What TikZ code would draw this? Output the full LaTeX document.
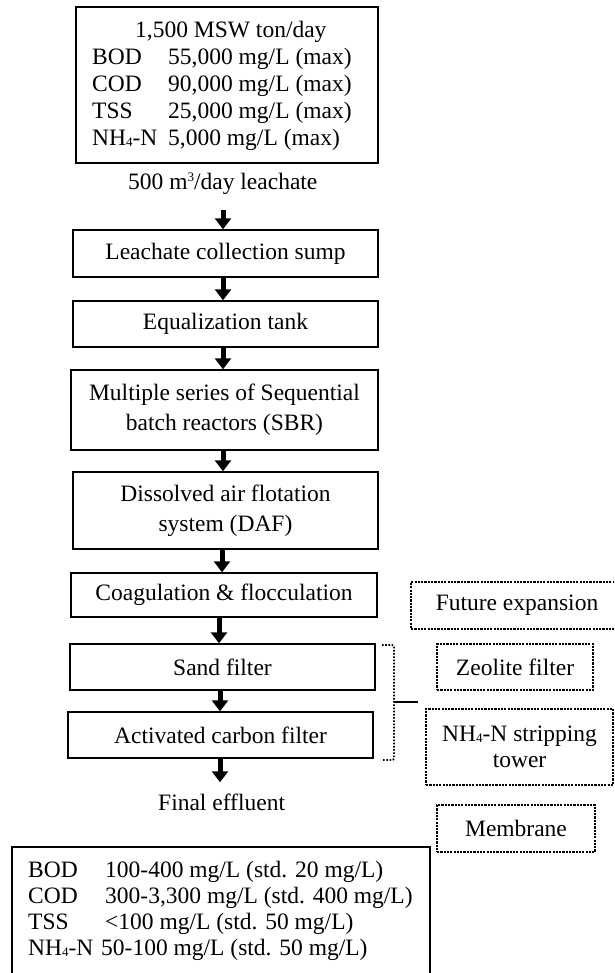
\documentclass[tikz,border=0pt]{standalone}
\usepackage{fontspec}
\setmainfont{Liberation Serif}
\usetikzlibrary{arrows.meta,calc}
\newcommand{\subfour}{\raisebox{-1pt}{\fontsize{13}{13}\selectfont 4}}
\newcommand{\supthree}{\raisebox{8pt}{\fontsize{13}{13}\selectfont 3}}
\begin{document}
\begin{tikzpicture}[x=1pt,y=-1pt,
  font=\fontsize{23.5}{30}\selectfont,
  box/.style={draw, line width=1.4pt, inner sep=0pt, align=center},
  fbox/.style={draw, line width=1.2pt, dash pattern=on 2.2pt off 1.1pt, inner sep=0pt, align=center, font=\fontsize{23.5}{26}\selectfont},
  flow/.style={line width=5pt, -{Triangle[width=16pt,length=11pt]}},
  txt/.style={inner sep=0pt, anchor=base west},
  brk/.style={line width=1.9pt, dash pattern=on 1.6pt off 1.6pt, rounded corners=2pt},
]
\clip (0,0) rectangle (614,973);
\fill[white] (0,0) rectangle (614,973);

% top influent box
\node[box, minimum width=302pt, minimum height=156pt] (inf) at (227,85) {};
\node[txt] (t0) at (135,37.5) {1,500 MSW ton/day};
\node[txt] (t1a) at (92,65) {BOD};
\node[txt] (t1b) at (168,65) {55,000 mg/L (max)};
\node[txt] (t2a) at (92,91.7) {COD};
\node[txt] (t2b) at (168,91.7) {90,000 mg/L (max)};
\node[txt] (t3a) at (92,119) {TSS};
\node[txt] (t3b) at (168,119) {25,000 mg/L (max)};
\node[txt] (t4a) at (92,146) {NH\subfour-N};
\node[txt] (t4b) at (168,146) {5,000 mg/L (max)};

\node[txt] (leach) at (128,189.5) {500 m\supthree/day leachate};

% process boxes
\node[box, minimum width=305pt, minimum height=47pt] (lcs) at (225.5,253.5) {Leachate collection sump};
\node[box, minimum width=305pt, minimum height=46pt] (eq) at (225.5,324) {Equalization tank};
\node[box, minimum width=307pt, minimum height=80pt] (sbr) at (224.5,410) {Multiple series of Sequential\\batch reactors (SBR)};
\node[box, minimum width=305pt, minimum height=77pt] (daf) at (225.5,510.5) {Dissolved air flotation\\system (DAF)};
\node[box, minimum width=306pt, minimum height=44pt] (coag) at (224,595) {Coagulation \& flocculation};
\node[box, minimum width=305pt, minimum height=46pt] (sand) at (222.5,667) {Sand filter};
\node[box, minimum width=305pt, minimum height=46pt] (ac) at (220.5,735) {Activated carbon filter};

\node[inner sep=0pt, anchor=base west] (fin) at (158,810) {Final effluent};

% arrows
\draw[flow, shorten <=15.5pt] (leach.south -| 223,0) -- (lcs.north -| 223,0);
\draw[flow] (lcs.south -| 223,0) -- (eq.north -| 223,0);
\draw[flow] (eq.south -| 223,0) -- (sbr.north -| 223,0);
\draw[flow] (sbr.south -| 223,0) -- (daf.north -| 223,0);
\draw[flow] (daf.south -| 222,0) -- (coag.north -| 222,0);
\draw[flow] (coag.south -| 219,0) -- (sand.north -| 219,0);
\draw[flow] (sand.south -| 220,0) -- (ac.north -| 220,0);
\draw[flow, shorten >=11pt] (ac.south -| 220,0) -- (fin.north -| 220,0);

% bracket
\coordinate (bt) at (382,645);
\coordinate (bb) at (382,760);
\coordinate (bm) at (394,702);
\coordinate (tk) at (418,702);
\draw[brk] (bt) -- (394,645) -- (394,760) -- (bb);
\draw[line width=1.8pt] (bm) -- (tk);

% future options
\node[fbox, minimum width=212pt, minimum height=47pt] (fut) at (517,605.5) {Future expansion};
\node[fbox, minimum width=156pt, minimum height=46pt] (zeo) at (515,667) {Zeolite filter};
\node[fbox, minimum width=187pt, minimum height=76pt] (nh4) at (519.5,747) {NH\subfour-N stripping\\tower};
\node[fbox, minimum width=158pt, minimum height=47pt] (mem) at (516,828.5) {Membrane};

% effluent box
\node[box, minimum width=418pt, minimum height=160pt] (eff) at (221,927) {};
\node[txt] (e1a) at (28,877) {BOD};
\node[txt] (e1b) at (105,877) {100-400 mg/L (std. 20 mg/L)};
\node[txt] (e2a) at (28,903) {COD};
\node[txt] (e2b) at (105,903) {300-3,300 mg/L (std. 400 mg/L)};
\node[txt] (e3a) at (28,929) {TSS};
\node[txt] (e3b) at (105,929) {<100 mg/L (std. 50 mg/L)};
\node[txt] (e4a) at (28,955) {NH\subfour-N};
\node[txt] (e4b) at (101,955) {50-100 mg/L (std. 50 mg/L)};
\end{tikzpicture}
\end{document}
